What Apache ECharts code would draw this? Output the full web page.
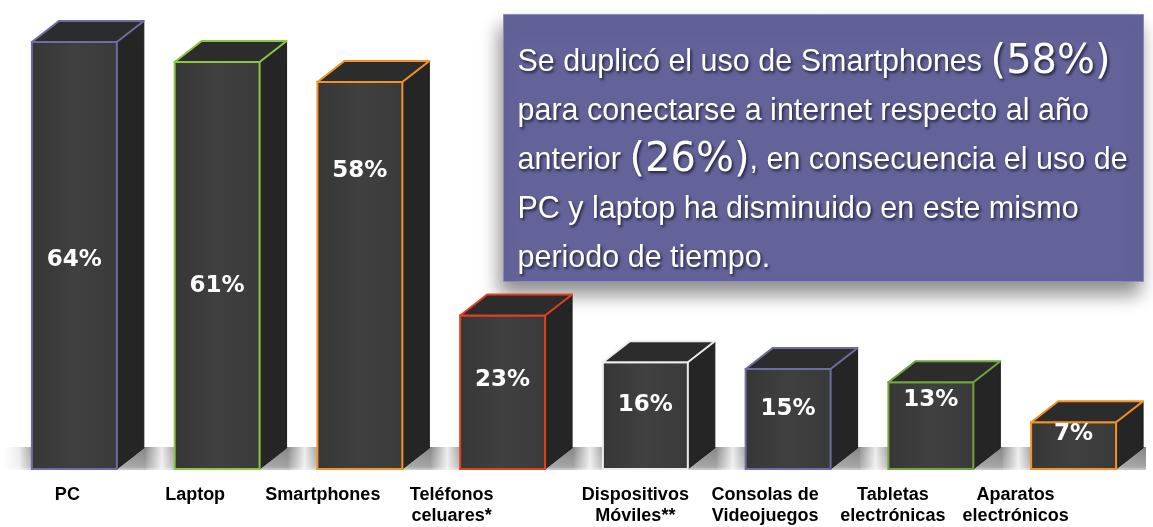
<!DOCTYPE html>
<html>
<head>
<meta charset="utf-8">
<script src="https://cdn.jsdelivr.net/npm/echarts@6/dist/echarts.min.js"></script>
<style>
  html, body { margin: 0; padding: 0; background: #fff; }
  #chart { width: 1153px; height: 527px; }
</style>
</head>
<body>
<div id="chart"></div>
<script>
// 数据
var categories = ['PC', 'Laptop', 'Smartphones', 'Teléfonos\nceluares*', 'Dispositivos\nMóviles**', 'Consolas de\nVideojuegos', 'Tabletas\nelectrónicas', 'Aparatos\nelectrónicos'];
var values = [64, 61, 58, 23, 16, 15, 13, 7];

// 样式: 边框颜色, 数值标签高度比例, 类目标签水平偏移
var edgeColors = ['#6e6d9f', '#8cc63f', '#f39325', '#e2411d', '#ececec', '#6e6d9f', '#70a63d', '#f39325'];
var labelAt = [0.49, 0.45, 0.77, 0.58, 0.6, 0.6, 0.79, 0.75];
var labelShift = [-7, -22, -37, -51, -10, -23, -38, -58];

var boxText = [
    '{t|Se duplicó el uso de Smartphones }{b|(58%)}',
    '{t|para conectarse a internet respecto al año}',
    '{t|anterior }{b|(26%)}{t|, en consecuencia el uso de}',
    '{t|PC y laptop ha disminuido en este mismo}',
    '{t|periodo de tiempo.}'
].join('\n');

(function () {
    var myChart = echarts.init(document.getElementById('chart'));
    var dx = 27, dy = 21;
    var shadowText = {
        textShadowColor: 'rgba(15,15,35,0.8)',
        textShadowBlur: 3,
        textShadowOffsetX: 1.5,
        textShadowOffsetY: 2
    };

    var option = {
        animation: false,
        grid: { left: 3, right: 8, top: 2, bottom: 58 },
        xAxis: {
            type: 'category',
            data: categories,
            axisLine: { show: false },
            axisTick: { show: false },
            axisLabel: { show: false },
            splitLine: { show: false }
        },
        yAxis: {
            type: 'value',
            min: 0,
            max: 70,
            show: false
        },
        graphic: [
            {
                type: 'group',
                left: 503,
                top: 14,
                z: 10,
                children: [
                    {
                        type: 'rect',
                        shape: { x: 0, y: 0, width: 640, height: 267 },
                        style: {
                            fill: '#63639a',
                            stroke: '#8a8ab8',
                            lineWidth: 1,
                            shadowBlur: 18,
                            shadowOffsetX: -4,
                            shadowOffsetY: 12,
                            shadowColor: 'rgba(0,0,0,0.45)'
                        }
                    },
                    {
                        type: 'text',
                        x: 14,
                        y: 24,
                        style: {
                            text: boxText,
                            fill: '#ffffff',
                            rich: {
                                t: echarts.util.extend({
                                    fontFamily: 'Liberation Sans',
                                    fontSize: 30.5,
                                    lineHeight: 49,
                                    fill: '#ffffff'
                                }, shadowText),
                                b: echarts.util.extend({
                                    fontFamily: 'DejaVu Sans',
                                    fontSize: 40,
                                    lineHeight: 49,
                                    fill: '#ffffff'
                                }, shadowText)
                            }
                        }
                    }
                ]
            }
        ],
        series: [
            {
                // 3D 柱子
                type: 'custom',
                z: 2,
                data: values.map(function (v, i) { return [i, v]; }),
                renderItem: function (params, api) {
                    var i = api.value(0);
                    var bottom = api.coord([i, 0]);
                    var top = api.coord([i, api.value(1)]);
                    var band = api.size([1, 0])[0];
                    var w = band * 0.595;
                    var cx = bottom[0];
                    var x0 = cx - w / 2, x1 = cx + w / 2;
                    var yB = bottom[1], yT = top[1];
                    var edge = edgeColors[i];
                    var h = yB - yT;
                    var gapEnd = (band / 2 - w / 2) / band;
                    return {
                        type: 'group',
                        children: [
                            // 地面阴影
                            {
                                type: 'rect',
                                shape: { x: cx - band / 2, y: yB - 22, width: band + 1, height: 23 },
                                style: {
                                    fill: new echarts.graphic.LinearGradient(0, 0, 1, 0, [
                                        { offset: 0, color: i === 0 ? '#ffffff' : '#8e8e8e' },
                                        { offset: gapEnd * 0.55, color: '#ececec' },
                                        { offset: gapEnd, color: '#a2a2a2' },
                                        { offset: 1, color: '#858585' }
                                    ])
                                }
                            },
                            {
                                type: 'rect',
                                shape: { x: cx - band / 2, y: yB - 22, width: band + 1, height: 23 },
                                style: {
                                    fill: new echarts.graphic.LinearGradient(0, 0, 0, 1, [
                                        { offset: 0, color: 'rgba(255,255,255,0)' },
                                        { offset: 0.85, color: 'rgba(255,255,255,0.25)' },
                                        { offset: 1, color: 'rgba(255,255,255,0.6)' }
                                    ])
                                }
                            },
                            {
                                type: 'polygon',
                                shape: { points: [[x1, yT], [x1 + dx, yT - dy], [x1 + dx, yB - dy], [x1, yB]] },
                                style: { fill: '#252525', stroke: '#1c1c1c', lineWidth: 1 }
                            },
                            {
                                type: 'rect',
                                shape: { x: x0, y: yT, width: w, height: h },
                                style: {
                                    fill: new echarts.graphic.LinearGradient(0, 0, 1, 0, [
                                        { offset: 0, color: '#363636' },
                                        { offset: 0.5, color: '#404040' },
                                        { offset: 1, color: '#3a3a3a' }
                                    ]),
                                    stroke: edge,
                                    lineWidth: 2
                                }
                            },
                            {
                                type: 'polygon',
                                shape: { points: [[x0, yT], [x0 + dx, yT - dy], [x1 + dx, yT - dy], [x1, yT]] },
                                style: { fill: '#2c2c2c', stroke: edge, lineWidth: 2, lineJoin: 'round' }
                            },
                            {
                                type: 'text',
                                x: cx,
                                y: yB - h * labelAt[i],
                                style: {
                                    text: api.value(1) + '%',
                                    fill: '#ffffff',
                                    fontFamily: 'DejaVu Sans',
                                    fontWeight: 'bold',
                                    fontSize: 23,
                                    align: 'center',
                                    verticalAlign: 'middle'
                                }
                            },
                            {
                                type: 'text',
                                x: cx + labelShift[i],
                                y: yB + 16,
                                style: {
                                    text: categories[i],
                                    fill: '#000000',
                                    fontFamily: 'Liberation Sans',
                                    fontWeight: 'bold',
                                    fontSize: 18,
                                    lineHeight: 21,
                                    align: 'center',
                                    verticalAlign: 'top'
                                }
                            }
                        ]
                    };
                }
            }
        ]
    };
    myChart.setOption(option);
    window.addEventListener('resize', function () {
        myChart.resize();
    });
})();
</script>
</body>
</html>
